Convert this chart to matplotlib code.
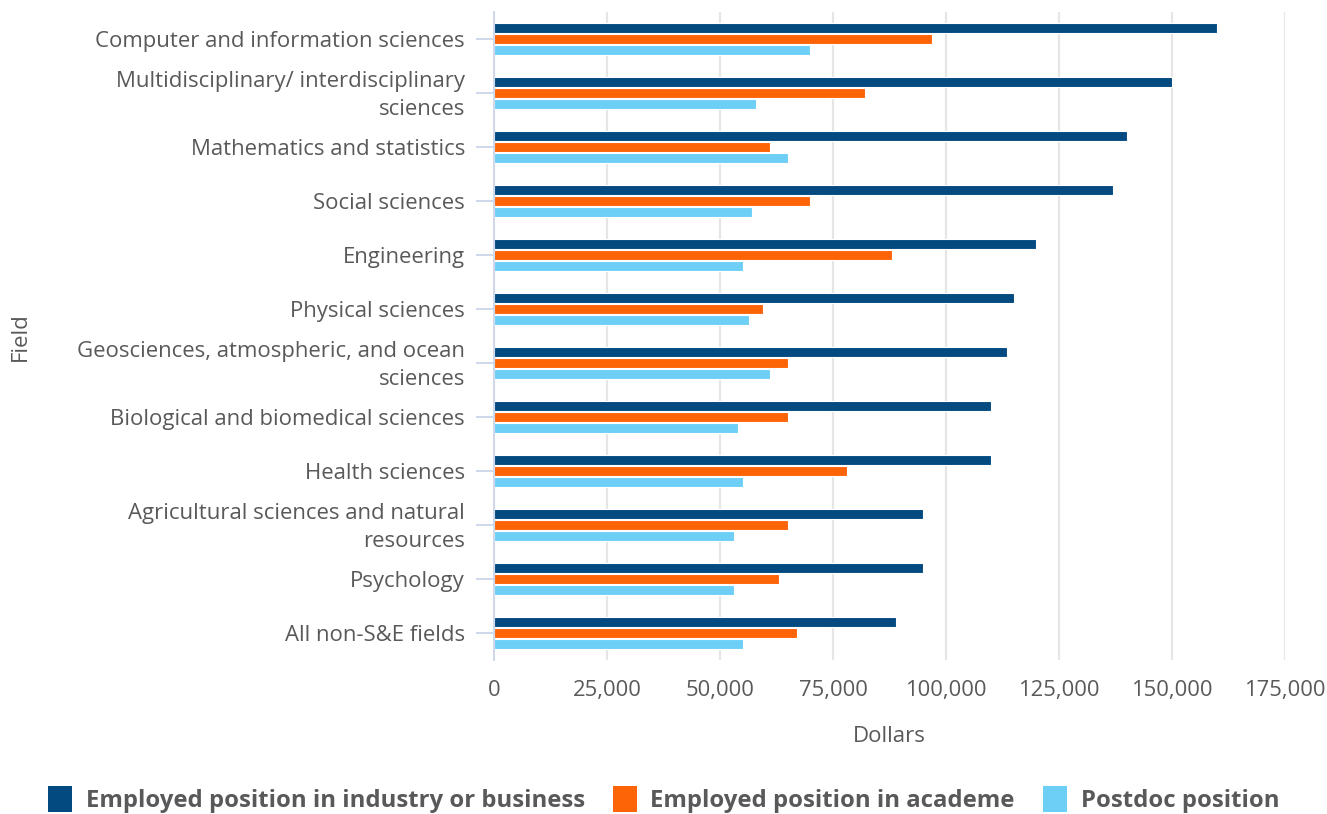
"""Median salaries by field and position type, horizontal grouped bars."""

import numpy as np
import matplotlib

matplotlib.use("Agg")
import matplotlib.pyplot as plt
import matplotlib.transforms as mtransforms
from matplotlib.patches import Patch
from matplotlib.ticker import FuncFormatter, MultipleLocator

plt.rcParams["font.family"] = ["Open Sans", "DejaVu Sans"]

FIELDS = [
    "Computer and information sciences",
    "Multidisciplinary/ interdisciplinary\nsciences",
    "Mathematics and statistics",
    "Social sciences",
    "Engineering",
    "Physical sciences",
    "Geosciences, atmospheric, and ocean\nsciences",
    "Biological and biomedical sciences",
    "Health sciences",
    "Agricultural sciences and natural\nresources",
    "Psychology",
    "All non-S&E fields",
]
INDUSTRY = [160000, 150000, 140000, 137000, 120000, 115000,
            113500, 110000, 110000, 95000, 95000, 89000]
ACADEME = [97000, 82000, 61000, 70000, 88000, 59500,
           65000, 65000, 78000, 65000, 63000, 67000]
POSTDOC = [70000, 58000, 65000, 57000, 55000, 56500,
           61000, 54000, 55000, 53000, 53000, 55000]

SERIES = [
    ("Employed position in industry or business", INDUSTRY, "#024a80"),
    ("Employed position in academe", ACADEME, "#fd6407"),
    ("Postdoc position", POSTDOC, "#6dcff6"),
]
TEXT = "#595959"
GRID = "#e6e6e6"
AXIS = "#ccd6eb"

fig = plt.figure(figsize=(13.27, 8.14), dpi=100)
ax = fig.add_axes([0.3723, 0.189, 0.5961, 0.796])

pos = np.arange(len(FIELDS))
offsets = [-0.205, 0.0, 0.205]
for (name, vals, color), off in zip(SERIES, offsets):
    ax.barh(pos + off, vals, height=0.19, color=color, edgecolor="white",
            linewidth=0.8, zorder=3, label=name)

ax.set_xlim(0, 175000)
ax.set_ylim(len(FIELDS) - 0.5, -0.5)
ax.xaxis.set_major_locator(MultipleLocator(25000))
ax.xaxis.set_major_formatter(FuncFormatter(lambda v, _: f"{v:,.0f}"))
ax.grid(axis="x", color=GRID, linewidth=1.6, zorder=0)

ax.set_yticks(pos)
ax.set_yticklabels(FIELDS, fontsize=15.9, color=TEXT, linespacing=1.45)
ax.tick_params(axis="y", length=13, width=1.3, color=AXIS, pad=8)
ax.tick_params(axis="x", length=0, labelsize=15.8, labelcolor=TEXT, pad=14)

# two-line labels sit a little high in the original
lift = mtransforms.ScaledTranslation(0, 4 / 100, fig.dpi_scale_trans)
for lab in ax.get_yticklabels():
    if "\n" in lab.get_text():
        lab.set_transform(lab.get_transform() + lift)

for side in ("top", "right", "bottom"):
    ax.spines[side].set_visible(False)
ax.spines["left"].set_color(AXIS)
ax.spines["left"].set_linewidth(1.3)
ax.spines["left"].set_zorder(4)

ax.set_xlabel("Dollars", fontsize=16, color=TEXT, labelpad=18)
ax.set_ylabel("Field", fontsize=16, color=TEXT)
ax.yaxis.set_label_coords(-0.585, 0.5)

handles = [Patch(facecolor=c, edgecolor="none") for _, _, c in SERIES]
fig.legend(handles, [n for n, _, _ in SERIES], loc="lower center",
           bbox_to_anchor=(0.5, -0.025), ncol=3, frameon=False,
           handlelength=1.0, handleheight=1.3, handletextpad=0.58,
           columnspacing=1.17,
           prop={"size": 17.2, "weight": "bold"}, labelcolor=TEXT)

fig.savefig("out.png", dpi=100)
